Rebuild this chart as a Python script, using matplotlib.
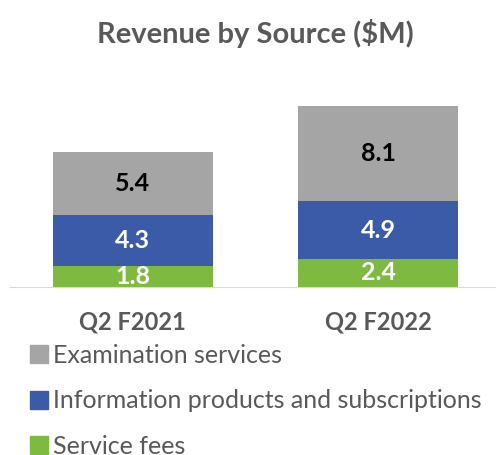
import matplotlib
matplotlib.use("Agg")
import numpy as np
from matplotlib import pyplot as plt
from matplotlib.patches import Patch

plt.rcParams['font.family'] = ['Lato', 'DejaVu Sans']

categories = ['Q2 F2021', 'Q2 F2022']
service_fees = [1.8, 2.4]
info_products = [4.3, 4.9]
exam_services = [5.4, 8.1]

series_names = ['Examination services', 'Information products and subscriptions', 'Service fees']
gray = '#a5a5a5'
blue = '#3b5ba9'
green = '#7dba3f'
text_col = '#595959'

fig = plt.figure(figsize=(4.96, 4.55), dpi=100)
ax = fig.add_axes([10 / 496, 1 - 287 / 455, 486 / 496, 188 / 455])

x = np.arange(len(categories))
w = 0.652
b1 = ax.bar(x, service_fees, w, color=green)
b2 = ax.bar(x, info_products, w, bottom=service_fees, color=blue)
bottom3 = np.array(service_fees) + np.array(info_products)
b3 = ax.bar(x, exam_services, w, bottom=bottom3, color=gray)

ax.bar_label(b1, labels=[f'{v:.1f}' for v in service_fees], label_type='center',
             color='white', fontsize=18, fontweight='bold')
ax.bar_label(b2, labels=[f'{v:.1f}' for v in info_products], label_type='center',
             color='white', fontsize=18, fontweight='bold')
ax.bar_label(b3, labels=[f'{v:.1f}' for v in exam_services], label_type='center',
             color='black', fontsize=18, fontweight='bold')

ax.set_xlim(-0.5, 1.48)
ax.set_ylim(0, 16)
ax.set_xticks(x)
ax.set_xticklabels(categories, fontsize=17, fontweight='bold', color=text_col)
ax.tick_params(axis='x', length=0, pad=17)
ax.set_yticks([])
for s in ['top', 'right', 'left']:
    ax.spines[s].set_visible(False)
ax.spines['bottom'].set_color('#d9d9d9')

fig.text(0.514, 1 - 33 / 455, 'Revenue by Source ($M)', ha='center', va='center',
         fontsize=21, fontweight='bold', color=text_col)

handles = [Patch(color=gray), Patch(color=blue), Patch(color=green)]
leg = fig.legend(handles, series_names, loc='upper left', bbox_to_anchor=(0.06, 1 - 344 / 455),
                 frameon=False, fontsize=18, handlelength=0.74, handleheight=0.74,
                 handletextpad=0.2, labelspacing=0.9, borderaxespad=0, borderpad=0)
for t in leg.get_texts():
    t.set_color(text_col)

fig.savefig('out.png', dpi=100)
